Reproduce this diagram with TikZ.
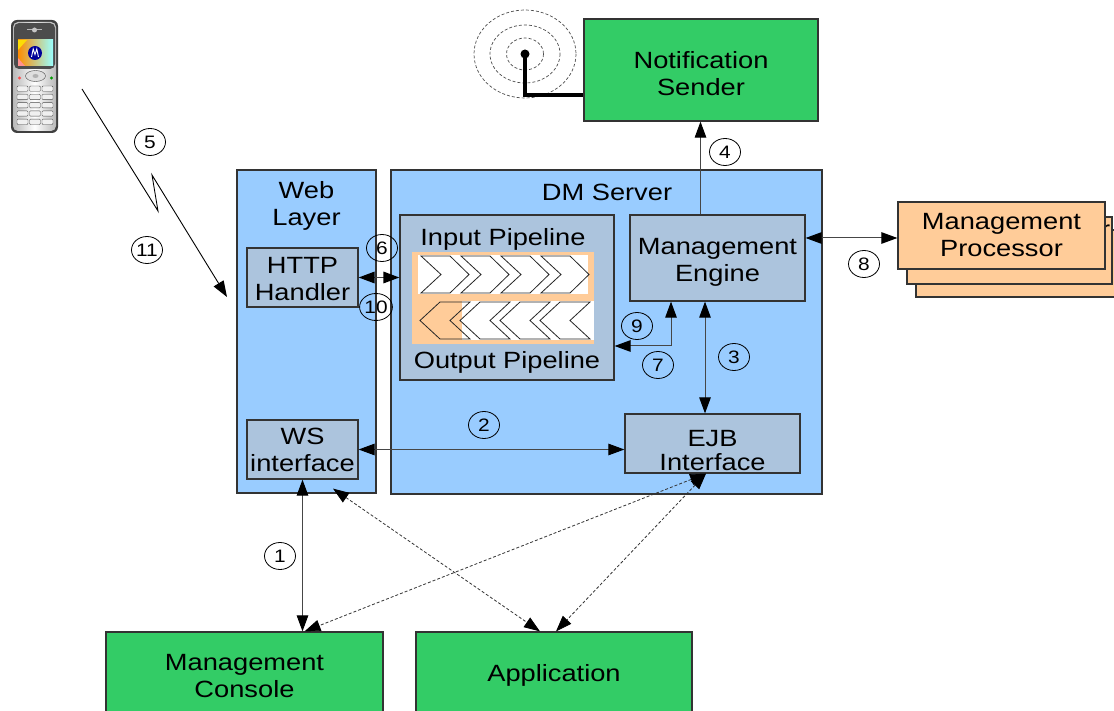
\documentclass[tikz,border=0pt]{standalone}
\usepackage{fontspec}
\setmainfont{Liberation Sans}[FakeStretch=1.16]
\usetikzlibrary{arrows.meta,shapes.geometric}
\definecolor{grn}{RGB}{51,204,102}
\definecolor{lblue}{RGB}{153,204,255}
\definecolor{steel}{RGB}{172,196,221}
\definecolor{peach}{RGB}{255,204,153}
\definecolor{bord}{RGB}{51,51,51}
\definecolor{arr}{RGB}{70,70,70}
\begin{document}
\begin{tikzpicture}[x=1pt,y=-1pt,
  bx/.style={draw=bord,line width=1.2pt,inner sep=0pt},
  container/.style={bx,fill=lblue},
  inner/.style={bx,fill=steel},
  greenbox/.style={bx,fill=grn},
  mpbox/.style={bx,fill=peach},
  lbl/.style={inner sep=0pt,align=center,font=\fontsize{23.5}{27}\selectfont},
  num/.style={ellipse,draw=black,line width=0.8pt,inner sep=0pt,
    minimum width=31pt,minimum height=27pt,font=\fontsize{18}{18}\selectfont},
  arrline/.style={draw=arr,line width=1pt},
  tip/.style={-{Triangle[length=16pt,width=11.5pt,color=black]}},
  dtip/.style={{Triangle[length=16pt,width=11.5pt,color=black]}-{Triangle[length=16pt,width=11.5pt,color=black]}},
  dashln/.style={draw=black!80,line width=0.8pt,dash pattern=on 3pt off 2pt},
  chev/.style={draw=black!85,line width=0.8pt,line join=miter}
]
\useasboundingbox (0,0) rectangle (1114,711);
\clip (0,0) rectangle (1114,711);

% ---------- phone ----------
\fill[gray!50!black,rounded corners=6pt] (11,20) rectangle (58,133);
\shade[left color=gray!55,right color=gray!55,middle color=white,rounded corners=5pt] (13,22) rectangle (56,131);
\fill[black!70,rounded corners=5pt] (14,23) rectangle (55,69);
\draw[gray!55,line width=1pt] (27,30) -- (42,30);
\fill[gray!45] (34.5,30) circle (2.5);
\shade[left color=orange!90!yellow,right color=cyan!40] (18,40) rectangle (53,66);
\fill[pink!75!red] (18,58) -- (25,66) -- (18,66) -- cycle;
\fill[yellow!80!orange] (18,40) -- (27,40) -- (18,50) -- cycle;
\fill[blue!60!black] (35,53) circle (7);
\draw[white,line width=0.9pt] (31.5,57) -- (33.2,49) -- (35,54.5) -- (36.8,49) -- (38.5,57);
\fill[gray!25,draw=gray!60!black,line width=0.4pt] (35.5,76) ellipse (10 and 5.5);
\fill[gray!60] (35.5,76) ellipse (3 and 2);
\fill[red!70] (19.5,78) circle (1.6);
\fill[green!60!black] (51.5,78) circle (1.6);
\foreach \r in {0,...,4}{\foreach \c in {0,1,2}{
  \draw[fill=gray!12,draw=gray!60!black,rounded corners=1pt,line width=0.4pt]
    ({17+\c*12.5},{86+\r*8.3}) rectangle ++(11,5.3);}}

% ---------- antenna ----------
\draw[dashln,draw=black!70,line width=0.7pt] (525,54) ellipse (51 and 44);
\draw[dashln,draw=black!70,line width=0.7pt] (525,54) ellipse (35 and 29);
\draw[dashln,draw=black!70,line width=0.7pt] (525,54) ellipse (18.5 and 16);

% ---------- boxes ----------
\node[greenbox,minimum width=234pt,minimum height=102pt] (ns) at (701,70) {};
\node[lbl] (nstxt) at ([yshift=-4pt]ns.center) {Notification\\Sender};
\node[container,minimum width=139pt,minimum height=323pt] (web) at (306.5,331.5) {};
\node[container,minimum width=431pt,minimum height=324pt] (dm) at (606.5,332) {};
\node[lbl] (weblbl) at (306.5,206) {Web\\Layer};
\node[lbl] (dmlbl) at (607,192) {DM Server};
\node[inner,minimum width=111pt,minimum height=59pt] (http) at (302.5,277.5) {};
\node[lbl] (httptxt) at ([yshift=-2pt]http.center) {HTTP\\Handler};
\node[inner,minimum width=111pt,minimum height=59pt] (ws) at (302.5,449.5) {};
\node[lbl] (wstxt) at (ws.center) {WS\\interface};
\node[inner,minimum width=214pt,minimum height=165pt] (pipe) at (507,297.5) {};
\node[lbl] (inlbl) at (503,239) {Input Pipeline};
\node[lbl] (outlbl) at (507,362) {Output Pipeline};
\node[inner,minimum width=175pt,minimum height=86pt] (me) at (717.5,258) {};
\node[lbl] (metxt) at ([yshift=-4pt]me.center) {Management\\Engine};
\node[inner,minimum width=175pt,minimum height=59pt] (ejb) at (712.5,443.5) {};
\node[lbl,font=\fontsize{23.5}{24}\selectfont] (ejbtxt) at ([yshift=-7pt]ejb.center) {EJB\\Interface};
\node[greenbox,minimum width=277pt,minimum height=88pt] (mc) at (244.5,676) {};
\node[lbl] (mctxt) at (mc.center) {Management\\Console};
\node[greenbox,minimum width=276pt,minimum height=88pt] (app) at (554,676) {};
\node[lbl] (apptxt) at ([yshift=1pt]app.center) {Application};
\node[mpbox,minimum width=214pt,minimum height=67pt] (mp3) at (1023,263.5) {};
\node[mpbox,minimum width=205pt,minimum height=67pt] (mp2) at (1009.5,250.5) {};
\node[lbl,anchor=base east] (mp2txt) at (1110.5,238) {r};
\node[mpbox,minimum width=207pt,minimum height=67pt] (mp) at (1001.5,235.5) {};
\node[lbl] (mptxt) at (mp.center) {Management\\Processor};

% ---------- pipelines ----------
\fill[peach] (412,252) rectangle (594,344);
\fill[white] (418,255) rectangle (588,294);
\fill[white] (462,301) rectangle (594,340);
\foreach \k in {0,...,3}{
  \pgfmathsetmacro{\xo}{421+40*\k}
  \draw[chev,fill=white] (\xo,256) -- ({\xo+29},256) -- ({\xo+48},274.5) -- ({\xo+29},293)
    -- (\xo,293) -- ({\xo+20},274.5) -- cycle;}
\draw[chev] (420,320.5) -- (440,302) -- (470,302) -- (450,320.5) -- (470,339) -- (440,339) -- cycle;
\foreach \k in {1,...,3}{
  \pgfmathsetmacro{\tx}{420+40*\k}
  \draw[chev,fill=white] (\tx,320.5) -- ({\tx+20},302) -- ({\tx+50},302) -- ({\tx+30},320.5)
    -- ({\tx+50},339) -- ({\tx+20},339) -- cycle;}

% ---------- antenna stem ----------
\coordinate (antc) at (525,54);
\coordinate (antk) at ([yshift=-25pt]ns.west);
\draw[line width=4.5pt,line cap=butt,line join=miter] (antc) |- (antk);
\fill[black] (antc) circle (4.5);

% ---------- connectors ----------
\coordinate (a4) at ([xshift=-17pt]me.north);
\draw[arrline,tip] (a4) -- (a4 |- ns.south);
\draw[arrline,dtip,line width=1.6pt] (http.east) -- (http.east -| pipe.west);
\coordinate (a8) at ([yshift=20pt]me.east);
\draw[arrline,dtip] (a8) -- (a8 -| mp.west);
\coordinate (a7) at ([xshift=-46.5pt]me.south);
\coordinate (b7) at ([yshift=-48.5pt]pipe.east);
\draw[arrline,dtip] (a7) |- (b7);
\coordinate (a3) at ([xshift=-7.5pt]ejb.north);
\draw[arrline,dtip] (a3 |- me.south) -- (a3);
\draw[arrline,dtip] (ws.east) -- (ws.east -| ejb.west);
\draw[arrline,dtip] (ws.south) -- (ws.south |- mc.north);

\coordinate (wsd) at ([xshift=30.5pt,yshift=-9pt]ws.south);
\coordinate (appl) at ([xshift=-14pt]app.north);
\coordinate (appr) at ([xshift=2pt]app.north);
\coordinate (ejbd) at ([xshift=-6.5pt]ejb.south);
\coordinate (mcd) at ([xshift=60pt]mc.north);
\draw[dashln,dtip] (wsd) -- (appl);
\draw[dashln,dtip] (ejbd) -- (mcd);
\draw[dashln,dtip] (ejbd) -- (appr);

\coordinate (l0) at (82,89);
\coordinate (l1) at (158,211);
\coordinate (l2) at (152,175);
\coordinate (l3) at (227,297);
\draw[draw=black,line width=0.9pt,tip] (l0) -- (l1) -- (l2) -- (l3);

% ---------- numbers ----------
\node[num] (n5) at (150,142) {5};
\node[num] (n11) at (147,250) {11};
\node[num] (n4) at (725,152) {4};
\node[num] (n6) at (382,248) {6};
\node[num] (n10) at (376,307) {10};
\node[num] (n8) at (864,264) {8};
\node[num] (n9) at (637,326) {9};
\node[num] (n7) at (658,365) {7};
\node[num] (n3) at (734,357) {3};
\node[num] (n2) at (484,425) {2};
\node[num] (n1) at (280,556) {1};
\end{tikzpicture}
\end{document}
